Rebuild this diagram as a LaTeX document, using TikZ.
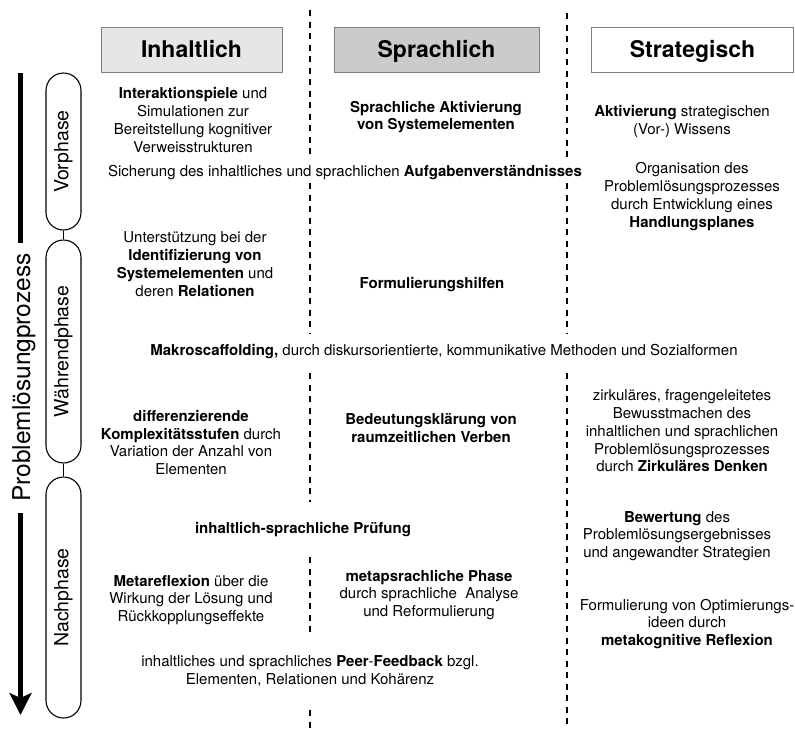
\documentclass[tikz,border=0pt]{standalone}
\usepackage{fontspec}
\setmainfont{TeX Gyre Heros}
\usetikzlibrary{arrows.meta}
\definecolor{hdrlight}{HTML}{E6E6E6}
\definecolor{hdrdark}{HTML}{CBCBCB}
\definecolor{hdrborder}{HTML}{7F7F7F}
\begin{document}
\begin{tikzpicture}[x=1pt,y=-1pt,
  hdr/.style={draw=hdrborder, line width=0.9pt, minimum height=45pt, inner sep=0pt,
    text height=16.6pt, text depth=0pt, font=\fontsize{23}{27}\selectfont\bfseries},
  body/.style={align=center, font=\fontsize{15}{17.8}\selectfont, inner sep=0pt},
  pill/.style={draw, line width=1.1pt, rounded corners=17.5pt, minimum height=35pt,
    inner sep=0pt, rotate=90, font=\fontsize{19.5}{22}\selectfont},
  divider/.style={line width=1.8pt, dash pattern=on 6pt off 5.5pt},
  link/.style={line width=1.6pt},
  bigline/.style={line width=5pt},
]
\useasboundingbox (0,0) rectangle (795,729);

% headers
\node[hdr, fill=hdrlight, minimum width=181pt] (hA) at (191.5,49.5) {Inhaltlich};
\node[hdr, fill=hdrdark, minimum width=205pt] (hB) at (436.5,49.5) {Sprachlich};
\node[hdr, fill=white, minimum width=202pt] (hC) at (692.5,49.5) {Strategisch};

% dividers
\draw[divider] (310,10) -- (310,157);
\draw[divider] (310,183) -- (310,333);
\draw[divider] (310,373) -- (310,502);
\draw[divider] (310,557) -- (310,632);
\draw[divider] (310,710) -- (310,729);
\draw[divider] (567,13) -- (567,157);
\draw[divider] (567,183) -- (567,333);
\draw[divider] (567,373) -- (567,729);

% process arrow
\coordinate (arrTop) at (20.5,73);
\coordinate (arrEnd) at (20.5,715);
\node[rotate=90, anchor=base, inner sep=0pt, font=\fontsize{24.5}{28}\selectfont] (plabel) at (30,377.5) {Problemlösungprozess};
\draw[bigline, shorten >=10pt] (arrTop) -- (arrTop |- plabel.east);
\draw[bigline, shorten <=11pt, -{Stealth[length=22pt,width=22pt,inset=5pt]}] (arrEnd |- plabel.west) -- (arrEnd);

% phases
\node[pill, minimum width=157pt] (vor) at (63.5,151.5) {Vorphase};
\node[pill, minimum width=223pt] (wahr) at (63.5,351.5) {Währendphase};
\node[pill, minimum width=241pt] (nach) at (63.5,597.5) {Nachphase};
\draw[link] (vor.west) -- (wahr.east);
\draw[link] (wahr.west) -- (nach.east);

% texts
\node[body] (tA1) at (193,120) {\textbf{Interaktionspiele} und\\Simulationen zur\\Bereitstellung kognitiver\\Verweisstrukturen};
\node[body] (tSich) at (345,173) {Sicherung des inhaltliches und sprachlichen \textbf{Aufgabenverständnisses}};
\node[body] (tA2) at (195,264) {Unterstützung bei der\\\textbf{Identifizierung von}\\\textbf{Systemelementen} und\\deren \textbf{Relationen}};
\node[body] (tMakro) at (444,352) {\textbf{Makroscaffolding,} durch diskursorientierte, kommunikative Methoden und Sozialformen};
\node[body] (tA3) at (191,442.5) {\textbf{differenzierende}\\\textbf{Komplexitätsstufen} durch\\Variation der Anzahl von\\Elementen};
\node[body] (tPruef) at (303,530) {\textbf{inhaltlich-sprachliche Prüfung}};
\node[body] (tA4) at (191,600) {\textbf{Metareflexion} über die\\Wirkung der Lösung und\\Rückkopplungseffekte};
\node[body] (tPeer) at (310,671) {inhaltliches und sprachliches \textbf{Peer}-\textbf{Feedback} bzgl.\\Elementen, Relationen und Kohärenz};
\node[body] (tB1) at (436,117) {\textbf{Sprachliche Aktivierung}\\\textbf{von Systemelementen}};
\node[body] (tB2) at (432,285) {\textbf{Formulierungshilfen}};
\node[body] (tB3) at (431,428) {\textbf{Bedeutungsklärung von}\\\textbf{raumzeitlichen Verben}};
\node[body] (tB4) at (429,595) {\textbf{metapsrachliche Phase}\\durch sprachliche\ \ Analyse\\und Reformulierung};
\node[body] (tC1) at (682,121.5) {\textbf{Aktivierung} strategischen\\(Vor-) Wissens};
\node[body] (tC2) at (692,196.5) {Organisation des\\Problemlösungsprozesses\\durch Entwicklung eines\\\textbf{Handlungsplanes}};
\node[body] (tC3) at (682,431) {zirkuläres, fragengeleitetes\\Bewusstmachen des\\inhaltlichen und sprachlichen\\Problemlösungsprozesses\\durch \textbf{Zirkuläres Denken}};
\node[body] (tC4) at (677,536) {\textbf{Bewertung} des\\Problemlösungsergebnisses\\und angewandter Strategien};
\node[body] (tC5) at (687,624) {Formulierung von Optimierungs-\\ideen durch\\\textbf{metakognitive Reflexion}};
\end{tikzpicture}
\end{document}
